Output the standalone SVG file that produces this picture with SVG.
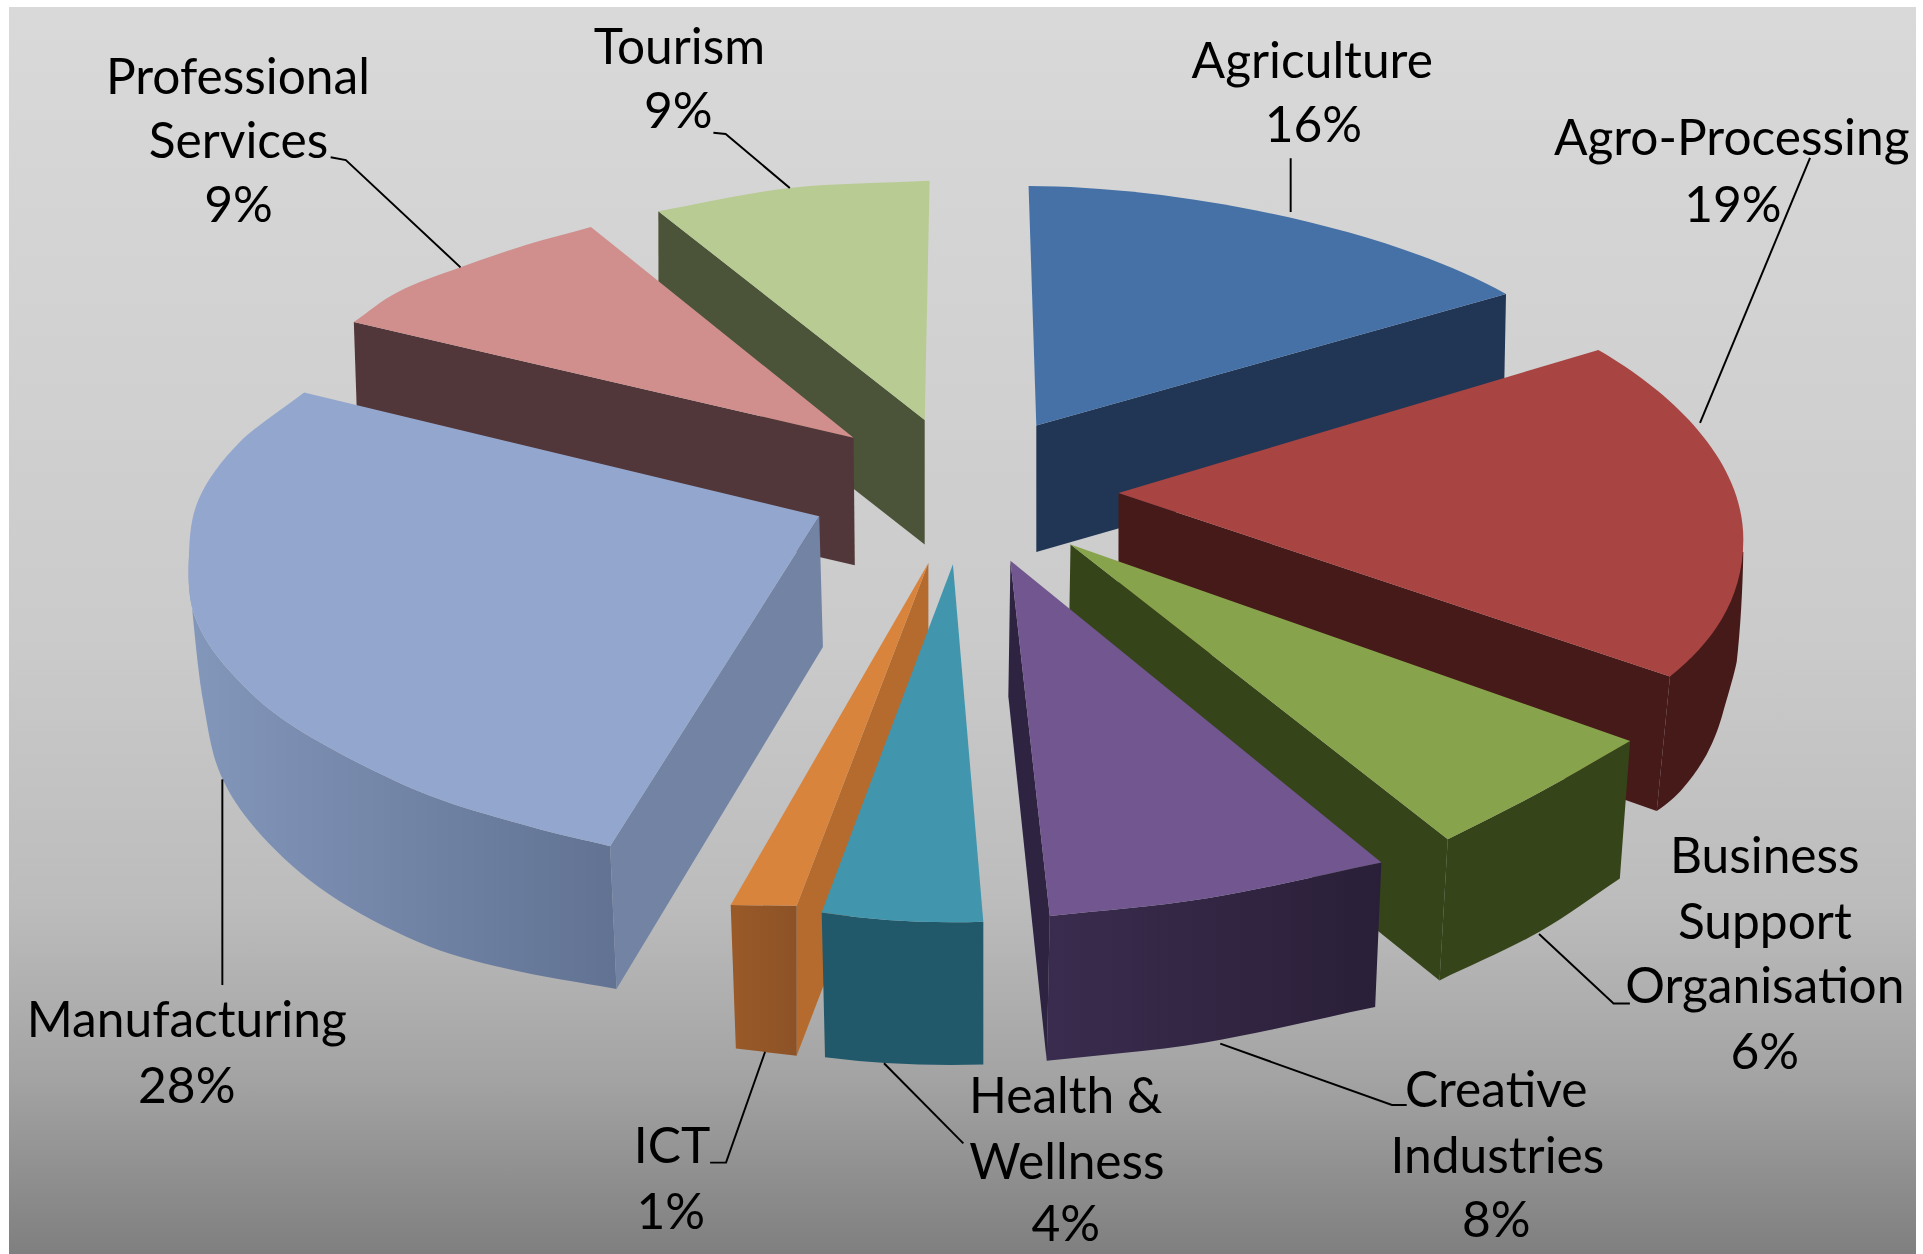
<svg xmlns="http://www.w3.org/2000/svg" width="1923" height="1254" viewBox="0 0 1923 1254">
<defs>
<linearGradient id="bg" x1="0" y1="0" x2="0" y2="1">
<stop offset="0" stop-color="#d9d9d9"/>
<stop offset="0.5" stop-color="#cbcbcb"/>
<stop offset="0.72" stop-color="#bcbcbc"/>
<stop offset="0.86" stop-color="#a3a3a3"/>
<stop offset="1" stop-color="#7f7f7f"/>
</linearGradient>
<linearGradient id="manWall" gradientUnits="userSpaceOnUse" x1="154" y1="0" x2="503" y2="0">
<stop offset="0" stop-color="#8397bb"/>
<stop offset="1" stop-color="#617292"/>
</linearGradient>
<linearGradient id="creWall" gradientUnits="userSpaceOnUse" x1="853" y1="0" x2="1126" y2="0">
<stop offset="0" stop-color="#3a2c4e"/>
<stop offset="1" stop-color="#2a1f38"/>
</linearGradient>
<linearGradient id="ictFront" gradientUnits="userSpaceOnUse" x1="596" y1="0" x2="650" y2="0">
<stop offset="0" stop-color="#9a5a28"/>
<stop offset="1" stop-color="#8c5226"/>
</linearGradient>
<style>
.lbl{font-family:Lato,"Open Sans","Liberation Sans",sans-serif;font-size:40.5px;fill:#000;text-anchor:middle}
.ld{fill:none;stroke:#000;stroke-width:1.6}
</style>
</defs>
<rect x="0" y="0" width="1923" height="1254" fill="#ffffff"/>
<rect x="9" y="7" width="1907" height="1247" fill="url(#bg)"/>
<g transform="scale(1.2264)">
<g id="tourism">
<path d="M536.8,172.2 L754,342.5 L754,444 L537,274 Z" fill="#4b5338"/>
<path d="M754,342.5 L536.8,172.2 C572.5,165.9 607.1,157.4 644,153.3 C680.9,149.2 720,149.4 758,147.4 Z" fill="#b8cb92"/>
<text class="lbl" x="554" y="52.2">Tourism</text>
<text class="lbl" x="553" y="104.4">9%</text>
</g>
<g id="professional-services">
<path d="M288.5,262.5 L696,357 L697,461 L292,367 Z" fill="#52373a"/>
<path d="M696,357 L288.5,262.5 C300.5,254.3 310,245.4 324.5,238 C339,230.6 358,224.4 375.5,218 C393,211.6 411.7,205.1 429.4,199.6 C447.1,194.1 464.3,189.9 481.8,185 Z" fill="#d08e8d"/>
<text class="lbl" x="194" y="76.6">Professional</text>
<text class="lbl" x="194.5" y="128.8">Services</text>
<text class="lbl" x="194.5" y="181">9%</text>
</g>
<g id="agriculture">
<path d="M845,347 L1228,239.7 L1226,341 L845,450 Z" fill="#213654"/>
<path d="M845,347 L838.7,151.7 C960,152 1130,185 1228,239.7 Z" fill="#4571a7"/>
<text class="lbl" x="1070" y="63.6">Agriculture</text>
<text class="lbl" x="1071" y="115.8">16%</text>
</g>
<g id="manufacturing">
<path d="M154,455 C153.5,471 153.3,487.5 159,503 C164.7,518.5 174.2,532.8 188,548 C201.8,563.2 216.5,577.8 242,594 C267.5,610.2 309.3,631.7 341,645 C372.7,658.3 405.9,666.5 432,674 C458.1,681.5 475.7,684.7 497.5,690 L502.7,806.5 C473,801 440.5,796.4 413.5,790 C386.5,783.6 365.3,778.2 341,768 C316.7,757.8 289.3,743.5 268,729 C246.7,714.5 227.7,697.2 213,681 C198.3,664.8 187.8,649.8 180,632 C172.2,614.2 169.7,594.3 166,574 C162.3,553.7 160,529.8 158,510 C156,490.2 155.3,473.3 154,455 Z" fill="url(#manWall)"/>
<path d="M668,421 L671,527.6 L502.7,806.5 L497.5,690 Z" fill="#7283a3"/>
<path d="M668,421 L248,320 C230.3,333.7 209.3,346.5 195,361 C180.7,375.5 168.8,391.3 162,407 C155.2,422.7 154.5,439 154,455 C153.5,471 153.3,487.5 159,503 C164.7,518.5 174.2,532.8 188,548 C201.8,563.2 216.5,577.8 242,594 C267.5,610.2 309.3,631.7 341,645 C372.7,658.3 405.9,666.5 432,674 C458.1,681.5 475.7,684.7 497.5,690 Z" fill="#93a7ce"/>
<text class="lbl" x="152.3" y="845.6">Manufacturing</text>
<text class="lbl" x="152.3" y="899.4">28%</text>
</g>
<g id="agro-processing">
<path d="M1361.7,551.7 L1350.9,661.2 C1360,655 1366,650 1372.6,642.3 C1380,634 1386,625 1391.6,615.2 C1398,603 1402,592 1405.2,580 C1410,563 1414,550 1416.1,539.5 C1419,515 1421,480 1421.5,450 L1380,450 Z" fill="#461a19"/>
<path d="M912,402 L1361.7,551.7 L1350.9,661.2 L912,507 Z" fill="#461a19"/>
<path d="M912,402 L1303.3,285.3 C1355,315 1421.5,370 1421.5,440 C1421.5,490 1395,525 1361.7,551.7 Z" fill="#a84442"/>
<text class="lbl" x="1412" y="126.5">Agro-Processing</text>
<text class="lbl" x="1413" y="181">19%</text>
</g>
<g id="business-support-organisation">
<path d="M1329.2,604.2 C1304.4,618.3 1279.7,633.1 1254.9,646.5 C1230.1,659.9 1205.3,671.8 1180.5,684.4 L1173.8,799.4 C1200.8,786.3 1230.4,773.8 1254.9,760 C1279.4,746.2 1298.8,730.9 1320.8,716.4 Z" fill="#354419"/>
<path d="M872.9,444 L1180.5,684.4 L1173.8,799.4 L871,556 Z" fill="#354419"/>
<path d="M872.9,444 L1329.2,604.2 C1304.4,618.3 1279.7,633.1 1254.9,646.5 C1230.1,659.9 1205.3,671.8 1180.5,684.4 Z" fill="#87a34b"/>
<text class="lbl" x="1439" y="711.8">Business</text>
<text class="lbl" x="1439" y="765.6">Support</text>
<text class="lbl" x="1439" y="817.8">Organisation</text>
<text class="lbl" x="1439" y="871.7">6%</text>
</g>
<g id="creative-industries">
<path d="M1126.4,703.3 C1079.1,713 1029.5,725.1 984.4,732.4 C939.3,739.7 898.8,742.1 856,747 L853.5,865 C897,860 937,857.5 983,850 C1028,842.5 1074,831 1121.3,821.2 Z" fill="url(#creWall)"/>
<path d="M823.9,457.2 L856,747 L853.5,865 L822.2,567.8 Z" fill="#2e2341"/>
<path d="M823.9,457.2 L1126.4,703.3 C1079.1,713 1029.5,725.1 984.4,732.4 C939.3,739.7 898.8,742.1 856,747 Z" fill="#71568f"/>
<text class="lbl" x="1220" y="902.6">Creative</text>
<text class="lbl" x="1221" y="956.5">Industries</text>
<text class="lbl" x="1220" y="1008.6">8%</text>
</g>
<g id="ict">
<path d="M757,459 L649.6,738.5 L649.6,860.8 L757,581 Z" fill="#b56b2e"/>
<path d="M595.8,738 L649.6,738.5 L649.6,860.8 L600,855 Z" fill="url(#ictFront)"/>
<path d="M757,459 L649.6,738.5 L595.8,738 Z" fill="#d9843d"/>
<text class="lbl" x="548" y="948.3">ICT</text>
<text class="lbl" x="547" y="1002">1%</text>
</g>
<g id="health-wellness">
<path d="M670,744 Q735,754 801.8,751.6 L801.8,868 Q735,870 672.7,862 Z" fill="#22596a"/>
<path d="M777,460 L801.8,751.6 Q735,754 670,744 Z" fill="#4196ae"/>
<text class="lbl" x="869" y="907.5">Health &amp;</text>
<text class="lbl" x="870" y="961.3">Wellness</text>
<text class="lbl" x="869" y="1012">4%</text>
</g>
<g id="connectors">
<polyline class="ld" points="269.6,128.2 282,130.5 375.5,218"/>
<polyline class="ld" points="581.7,108.3 591.7,109.3 644,153.3"/>
<polyline class="ld" points="1052.4,129 1052.4,172.9"/>
<polyline class="ld" points="1475.9,128.8 1386.2,344.8"/>
<polyline class="ld" points="1254.9,761.6 1315.7,818.3 1329,818.3"/>
<polyline class="ld" points="995,851 1135,901 1147,901"/>
<polyline class="ld" points="720.8,867 785.5,932.3"/>
<polyline class="ld" points="623.8,857.8 592,948 579,948"/>
<polyline class="ld" points="181.3,635.5 181.3,803.2"/>
</g>
</g>
</svg>
